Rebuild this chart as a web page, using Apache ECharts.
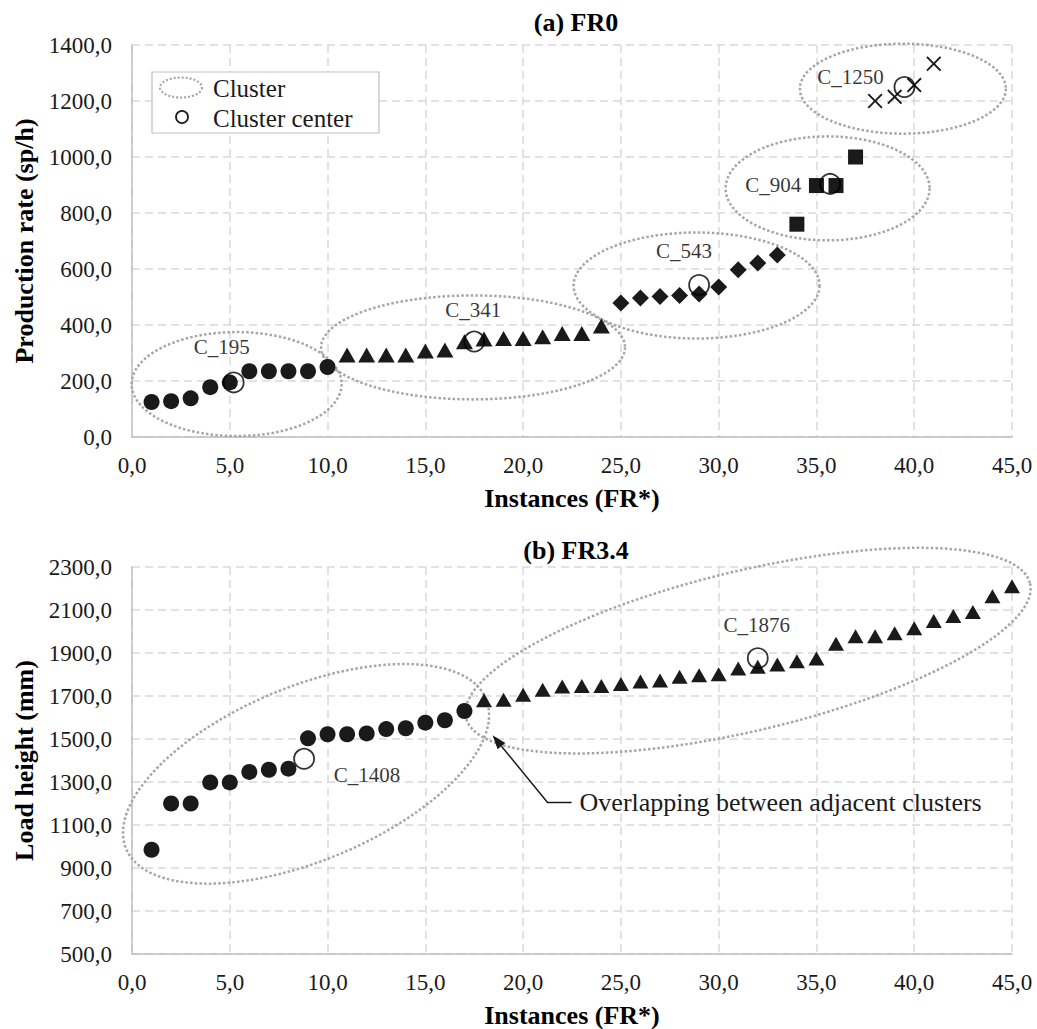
<!DOCTYPE html>
<html>
<head>
<meta charset="utf-8">
<script src="https://cdn.jsdelivr.net/npm/echarts@6/dist/echarts.min.js"></script>
<style>
  html, body { margin: 0; background: #fff; }
  #main { width: 1037px; height: 1029px; }
</style>
</head>
<body>
<div id="main"></div>
<script>
// ---- values ----
// (a) FR0 : production rate per instance, grouped by cluster
var rateCircles   = [125, 128, 138, 178, 195, 235, 235, 235, 235, 250];       // instances 1..10
var rateTriangles = [293, 293, 293, 293, 307, 311, 340, 350, 352, 352, 358, 370, 370, 396]; // 11..24
var rateDiamonds  = [479, 496, 502, 505, 511, 536, 597, 621, 650];            // 25..33
var rateSquares   = [760, 898, 898, 1000];                                     // 34..37
var rateCrosses   = [1200, 1215, 1257, 1333];                                  // 38..41
var centersA      = [[5.2, 195], [17.5, 341], [29, 543], [35.7, 904], [39.5, 1250]];
var centerNamesA  = ['C_195', 'C_341', 'C_543', 'C_904', 'C_1250'];

// (b) FR3.4 : load height per instance
var heightCircles = [985, 1200, 1200, 1298, 1298, 1347, 1357, 1362, 1503, 1522, 1522,
                     1526, 1546, 1550, 1576, 1587, 1630];                      // 1..17
var heightTriangles = [1680, 1683, 1706, 1729, 1744, 1747, 1747, 1756, 1767, 1772, 1790,
                       1797, 1801, 1828, 1836, 1847, 1862, 1874, 1943, 1978, 1978, 1992,
                       2015, 2049, 2072, 2091, 2164, 2210];                    // 18..45
var centersB     = [[8.8, 1408], [32, 1876]];
var centerNamesB = ['C_1408', 'C_1876'];

// tick settings
var xTicks = { min: 0, max: 45, step: 5 };
var yTicksA = { min: 0, max: 1400, step: 200 };
var yTicksB = { min: 500, max: 2300, step: 200 };

// ---- annotation geometry (cluster outlines: centre in data units, semi-axes px, tilt deg) ----
var zonesA = [[5.35, 189, 105, 52, 0], [17.44, 320, 152, 52, 0], [28.87, 541, 123, 53, 0],
              [35.57, 888, 102, 52, 0], [39.42, 1244, 103, 45, 0]];
var zonesB = [[8.9, 1338, 195, 87, 22.6], [31.5, 1911, 290, 80, 13.4]];
var arrowB = [[18.44, 1517, 21.25, 1205, 22.48, 1205]];
var arrowText = 'Overlapping between adjacent clusters';
// label offsets for centre names (px)
var nameOffsetsA = [[-12, -35], [-1, -32], [-15, -34], [-57, 1], [-54, -10]];
var nameOffsetsB = [[63, 16], [-1, -33]];

var SERIF = '"Liberation Serif", "Times New Roman", serif';
var INK = '#1a1a1a';

function pairs(vals, start) {
  return vals.map(function (v, i) { return [start + i, v]; });
}
function fmt(v) { return v.toFixed(1).replace('.', ','); }

function ellipsePts(cx, cy, a, b, deg) {
  var th = deg * Math.PI / 180, pts = [];
  for (var i = 0; i < 120; i++) {
    var t = i / 120 * Math.PI * 2;
    var ex = a * Math.cos(t), ey = b * Math.sin(t);
    pts.push([cx + ex * Math.cos(th) + ey * Math.sin(th),
              cy - ex * Math.sin(th) + ey * Math.cos(th)]);
  }
  return pts;
}

function zoneSeries(gi, zones) {
  return {
    type: 'custom', xAxisIndex: gi, yAxisIndex: gi, data: zones, silent: true,
    encode: { x: 0, y: 1 },
    renderItem: function (params, api) {
      var c = api.coord([api.value(0), api.value(1)]);
      return {
        type: 'polygon',
        shape: { points: ellipsePts(c[0], c[1], api.value(2), api.value(3), api.value(4)) },
        style: { fill: 'none', stroke: '#a6a6a6', lineWidth: 2.5, lineDash: [2.5, 2.2] }
      };
    }
  };
}

function dots(gi, data, symbol, size) {
  return {
    type: 'scatter', xAxisIndex: gi, yAxisIndex: gi, data: data,
    symbol: symbol, symbolSize: size, itemStyle: { color: INK, opacity: 1 }
  };
}

function centerSeries(gi, data, names, offs) {
  return {
    type: 'scatter', xAxisIndex: gi, yAxisIndex: gi, symbol: 'circle', symbolSize: 20,
    itemStyle: { color: 'rgba(255,255,255,0)', borderColor: '#000', borderWidth: 1.8 },
    data: data.map(function (d, i) {
      return {
        value: d,
        label: { show: true, formatter: names[i], position: 'inside', offset: offs[i],
                 fontFamily: SERIF, fontSize: 21, color: '#000',
                 textBorderWidth: 0, textBorderColor: 'transparent' }
      };
    }),
    z: 3
  };
}

var CROSS = 'path://M0,0.9L0.9,0L5,4.1L9.1,0L10,0.9L5.9,5L10,9.1L9.1,10L5,5.9L0.9,10L0,9.1L4.1,5Z';

function xAxisFor(gi) {
  return {
    type: 'value', gridIndex: gi, min: xTicks.min, max: xTicks.max, interval: xTicks.step,
    name: 'Instances (FR*)', nameLocation: 'middle', nameGap: 48,
    nameTextStyle: { fontFamily: SERIF, fontSize: 26, fontWeight: 'bold', color: '#000' },
    axisLine: { onZero: false, lineStyle: { color: '#bfbfbf', width: 1.5 } },
    axisTick: { show: false },
    axisLabel: { margin: 17, fontFamily: SERIF, fontSize: 23, color: INK, formatter: fmt },
    splitLine: { show: true, lineStyle: { color: '#d9d9d9', width: 1.5, type: [8, 5] } }
  };
}
function yAxisFor(gi, ticks, title) {
  return {
    type: 'value', gridIndex: gi, min: ticks.min, max: ticks.max, interval: ticks.step,
    name: title, nameLocation: 'middle', nameGap: 94,
    nameTextStyle: { fontFamily: SERIF, fontSize: 26, fontWeight: 'bold', color: '#000' },
    axisLine: { show: true, lineStyle: { color: '#bfbfbf', width: 1.5 } },
    axisTick: { show: false },
    axisLabel: { margin: 20, fontFamily: SERIF, fontSize: 23, color: INK, formatter: fmt },
    splitLine: { show: true, lineStyle: { color: '#d9d9d9', width: 1.5, type: [8, 5] } }
  };
}

var chart = echarts.init(document.getElementById('main'), null, { renderer: 'svg' });

chart.setOption({
  backgroundColor: '#fff',
  animation: false,
  title: [
    { text: '(a) FR0', left: 571, top: 4, textAlign: 'center',
      textStyle: { fontFamily: SERIF, fontSize: 26, fontWeight: 'bold', color: '#000' } },
    { text: '(b) FR3.4', left: 571, top: 532, textAlign: 'center',
      textStyle: { fontFamily: SERIF, fontSize: 26, fontWeight: 'bold', color: '#000' } }
  ],
  grid: [
    { left: 132, right: 25, top: 45, height: 392 },
    { left: 132, right: 25, top: 567, height: 393 }
  ],
  xAxis: [xAxisFor(0), xAxisFor(1)],
  yAxis: [yAxisFor(0, yTicksA, 'Production rate (sp/h)'), yAxisFor(1, yTicksB, 'Load height (mm)')],
  series: [
    zoneSeries(0, zonesA),
    dots(0, pairs(rateCircles, 1), 'circle', 16),
    dots(0, pairs(rateTriangles, 11), 'triangle', [17, 15]),
    dots(0, pairs(rateDiamonds, 25), 'diamond', [17, 17]),
    dots(0, pairs(rateSquares, 34), 'rect', 15),
    dots(0, pairs(rateCrosses, 38), CROSS, 15),
    centerSeries(0, centersA, centerNamesA, nameOffsetsA),

    zoneSeries(1, zonesB),
    dots(1, pairs(heightCircles, 1), 'circle', 16),
    dots(1, pairs(heightTriangles, 18), 'triangle', [16, 14]),
    centerSeries(1, centersB, centerNamesB, nameOffsetsB),
    {
      type: 'custom', xAxisIndex: 1, yAxisIndex: 1, data: arrowB, silent: true,
      encode: { x: [0, 2, 4], y: [1, 3, 5] },
      renderItem: function (params, api) {
        var tip = api.coord([api.value(0), api.value(1)]);
        var elbow = api.coord([api.value(2), api.value(3)]);
        var end = api.coord([api.value(4), api.value(5)]);
        var dx = tip[0] - elbow[0], dy = tip[1] - elbow[1];
        var len = Math.sqrt(dx * dx + dy * dy), ux = dx / len, uy = dy / len;
        var hl = 14, hw = 5;
        var base = [tip[0] - ux * hl, tip[1] - uy * hl];
        return {
          type: 'group',
          children: [
            { type: 'polyline', shape: { points: [end, elbow, base] },
              style: { fill: 'none', stroke: INK, lineWidth: 1.5 } },
            { type: 'polygon',
              shape: { points: [tip, [base[0] - uy * hw, base[1] + ux * hw], [base[0] + uy * hw, base[1] - ux * hw]] },
              style: { fill: INK } },
            { type: 'text',
              style: { text: arrowText, x: end[0] + 8, y: end[1], fontFamily: SERIF, fontSize: 26,
                       fill: INK, align: 'left', verticalAlign: 'middle' } }
          ]
        };
      },
      z: 4
    }
  ],
  graphic: [
    { type: 'rect', shape: { x: 152, y: 72, width: 227, height: 61 },
      style: { fill: '#fff', stroke: '#bfbfbf', lineWidth: 1.2 }, z: 10 },
    { type: 'polygon', shape: { points: ellipsePts(181, 87.5, 21, 10, 0) },
      style: { fill: 'none', stroke: '#a6a6a6', lineWidth: 2.2, lineDash: [2, 2] }, z: 11 },
    { type: 'circle', shape: { cx: 182, cy: 117, r: 6 },
      style: { fill: 'none', stroke: INK, lineWidth: 1.8 }, z: 11 },
    { type: 'text', x: 213, y: 88, z: 11,
      style: { text: 'Cluster', fontFamily: SERIF, fontSize: 25, fill: INK, verticalAlign: 'middle' } },
    { type: 'text', x: 213, y: 118, z: 11,
      style: { text: 'Cluster center', fontFamily: SERIF, fontSize: 25, fill: INK, verticalAlign: 'middle' } }
  ]
});
</script>
</body>
</html>
